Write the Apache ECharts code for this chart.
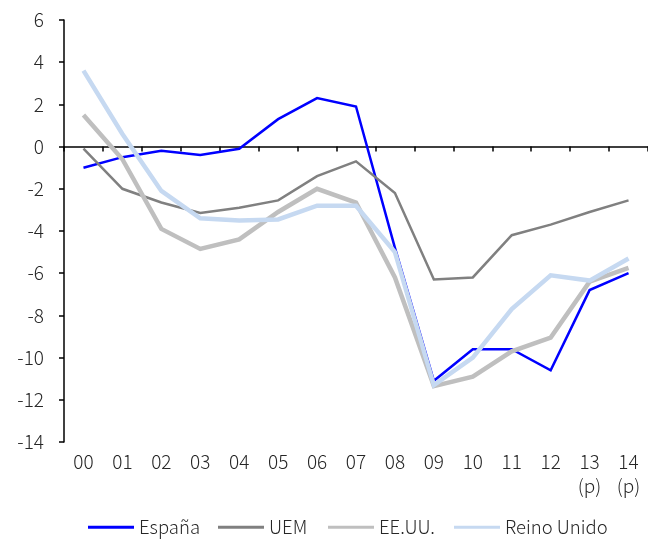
<!DOCTYPE html>
<html>
<head>
<meta charset="utf-8">
<script src="https://cdn.jsdelivr.net/npm/echarts@6/dist/echarts.min.js"></script>
<style>
  html, body { margin: 0; padding: 0; background: #fff; }
  #chart { width: 648px; height: 539px; }
</style>
</head>
<body>
<div id="chart"></div>
<script>
// Years (two-digit), last two are forecasts
const years = ['00', '01', '02', '03', '04', '05', '06', '07', '08', '09', '10', '11', '12', '13\n(p)', '14\n(p)'];

// Series values (% of GDP)
const espana = [-1.0, -0.5, -0.2, -0.4, -0.1, 1.3, 2.3, 1.9, -4.8, -11.1, -9.6, -9.6, -10.6, -6.8, -6.0];
const uem = [-0.1, -2.0, -2.65, -3.15, -2.9, -2.55, -1.4, -0.7, -2.2, -6.3, -6.2, -4.2, -3.7, -3.1, -2.55];
const eeuu = [1.5, -0.6, -3.9, -4.85, -4.4, -3.1, -2.0, -2.65, -6.2, -11.35, -10.9, -9.7, -9.05, -6.4, -5.75];
const reinoUnido = [3.6, 0.6, -2.1, -3.4, -3.5, -3.45, -2.8, -2.8, -5.0, -11.3, -10.0, -7.7, -6.1, -6.35, -5.3];

// Value axis ticks
const yMin = -14, yMax = 6, yStep = 2;

const seriesNames = ['España', 'UEM', 'EE.UU.', 'Reino Unido'];
const legendLeft = [83, 213, 323, 449];

const FONT = '"Noto Sans CJK JP", "Noto Sans", sans-serif';
const TEXT = '#262626';

const chart = echarts.init(document.getElementById('chart'), null, { renderer: 'canvas' });

function line(name, data, color, width) {
  return {
    name, type: 'line', data, xAxisIndex: 0, yAxisIndex: 0,
    symbol: 'none', smooth: false,
    lineStyle: { color, width, cap: 'butt', join: 'miter' },
    itemStyle: { color },
    emphasis: { disabled: true },
    animation: false
  };
}

// one legend block per series so each sits at its own spot
const legends = seriesNames.map((name, i) => ({
  left: legendLeft[i], top: 513,
  icon: 'rect', itemWidth: 46, itemHeight: 3, itemGap: 0,
  selectedMode: false,
  textStyle: { color: TEXT, fontFamily: FONT, fontSize: 18.5, fontWeight: 300 },
  data: [name]
}));

chart.setOption({
  backgroundColor: '#ffffff',
  animation: false,
  grid: { left: 64, right: 0, top: 20, bottom: 97, containLabel: false },
  xAxis: [
    {
      type: 'category', data: years, position: 'bottom', boundaryGap: true,
      axisLine: { show: false, onZero: false },
      axisTick: { show: false },
      axisLabel: { color: TEXT, fontFamily: FONT, fontSize: 19, fontWeight: 300, margin: 8, lineHeight: 24, interval: 0 },
      splitLine: { show: false }
    },
    {
      type: 'category', data: years, position: 'bottom', boundaryGap: true,
      axisLine: { show: true, onZero: true, lineStyle: { color: '#000', width: 1.5 } },
      axisTick: { show: true, inside: false, length: 5, lineStyle: { color: '#000', width: 1.5 } },
      axisLabel: { show: false },
      splitLine: { show: false }
    }
  ],
  yAxis: {
    type: 'value', min: yMin, max: yMax, interval: yStep,
    axisLine: { show: true, lineStyle: { color: '#000', width: 1.5 } },
    axisTick: { show: true, inside: false, length: 5, lineStyle: { color: '#000', width: 1.5 } },
    axisLabel: { color: TEXT, fontFamily: FONT, fontSize: 19, fontWeight: 300, margin: 20 },
    splitLine: { show: false }
  },
  legend: legends,
  series: [
    line('España', espana, '#0000FF', 2.5),
    line('UEM', uem, '#808080', 2.5),
    line('EE.UU.', eeuu, '#BFBFBF', 4.5),
    line('Reino Unido', reinoUnido, '#C6D9F1', 4.5)
  ]
});
</script>
</body>
</html>
